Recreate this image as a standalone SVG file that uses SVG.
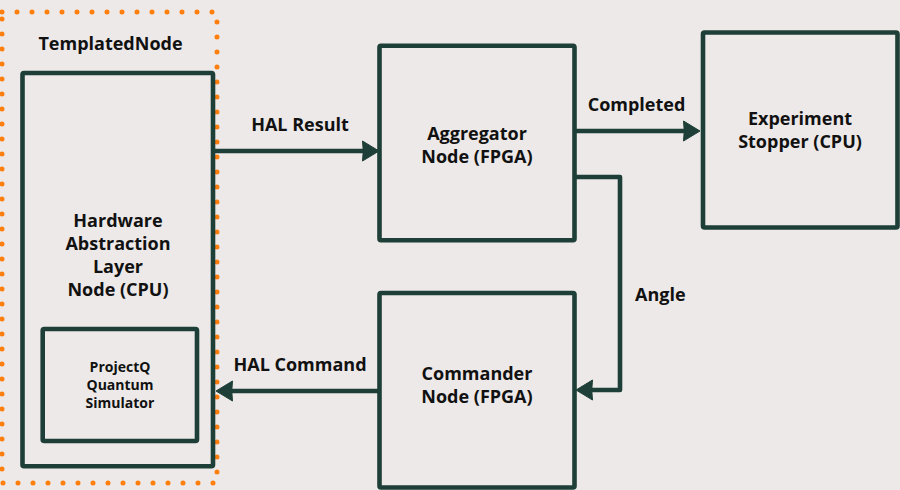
<svg xmlns="http://www.w3.org/2000/svg" width="900" height="490" viewBox="0 0 900 490">
  <style>
    .box { fill: none; stroke: #1e3f37; stroke-width: 4.6; stroke-linejoin: round; }
    .conn { fill: none; stroke: #1e3f37; stroke-width: 4.6; stroke-linejoin: round; }
    .t { font-family: "Open Sans", "Liberation Sans", sans-serif; font-weight: 700; fill: #111111; text-anchor: middle; }
    .lg { font-size: 18px; }
    .sm { font-size: 14px; }
    .dots { fill: none; stroke: #ff7f0e; stroke-width: 5; stroke-linecap: round; stroke-dasharray: 0 15; }
  </style>
  <defs>
    <marker id="arrow" markerUnits="userSpaceOnUse" markerWidth="20" markerHeight="22" viewBox="0 0 18 22" refX="8" refY="11" orient="auto">
      <path d="M0.5,1 L17,11 L0.5,21 Q2,11 0.5,1 Z" fill="#1e3f37" stroke="#1e3f37" stroke-width="1" stroke-linejoin="round"/>
    </marker>
  </defs>
  <rect width="900" height="490" fill="#ede9e8"/>

  <g id="templated-node">
    <rect class="dots" x="2" y="12" width="215" height="471"/>
    <text class="t lg" x="110.5" y="50">TemplatedNode</text>
  </g>

  <g id="hal-node">
    <rect class="box" x="22.5" y="73" width="190.5" height="393.3" rx="1.5"/>
    <text class="t lg" x="118" y="227">Hardware</text>
    <text class="t lg" x="118" y="250">Abstraction</text>
    <text class="t lg" x="118" y="273">Layer</text>
    <text class="t lg" x="118" y="296">Node (CPU)</text>
  </g>

  <g id="projectq-simulator">
    <rect class="box" x="42.7" y="329" width="154.3" height="112" rx="1.5"/>
    <text class="t sm" x="120" y="372">ProjectQ</text>
    <text class="t sm" x="120" y="390">Quantum</text>
    <text class="t sm" x="120" y="408">Simulator</text>
  </g>

  <g id="aggregator-node">
    <rect class="box" x="379.5" y="45.8" width="195" height="194.5" rx="1.5"/>
    <text class="t lg" x="477" y="140">Aggregator</text>
    <text class="t lg" x="477" y="163">Node (FPGA)</text>
  </g>

  <g id="experiment-stopper">
    <rect class="box" x="703" y="32.5" width="194.5" height="195" rx="1.5"/>
    <text class="t lg" x="800" y="125">Experiment</text>
    <text class="t lg" x="800" y="148">Stopper (CPU)</text>
  </g>

  <g id="commander-node">
    <rect class="box" x="379.5" y="293" width="195" height="194.5" rx="1.5"/>
    <text class="t lg" x="477" y="380">Commander</text>
    <text class="t lg" x="477" y="403">Node (FPGA)</text>
  </g>

  <g id="connectors">
    <path class="conn" d="M215,151 H370" marker-end="url(#arrow)"/>
    <path class="conn" d="M576,131 H691" marker-end="url(#arrow)"/>
    <path class="conn" d="M576,177 H620 V390 H585" marker-end="url(#arrow)"/>
    <path class="conn" d="M378,391 H225" marker-end="url(#arrow)"/>
    <text class="t lg" x="300" y="131">HAL Result</text>
    <text class="t lg" x="636.5" y="111">Completed</text>
    <text class="t lg" x="635" y="301" style="text-anchor:start">Angle</text>
    <text class="t lg" x="300" y="371">HAL Command</text>
  </g>
</svg>
